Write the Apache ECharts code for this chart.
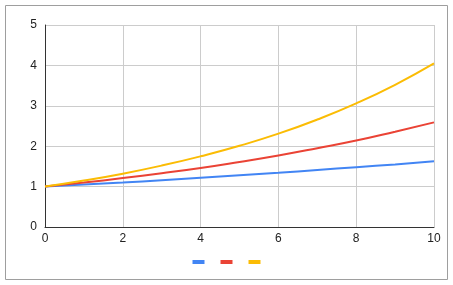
<!DOCTYPE html>
<html><head><meta charset="utf-8">
<script src="https://cdn.jsdelivr.net/npm/echarts@6/dist/echarts.min.js"></script>
<style>html,body{margin:0;padding:0;background:#fff}#c{width:453px;height:285px}</style>
</head><body><div id="c"></div>
<script>
const xs = [0,1,2,3,4,5,6,7,8,9,10];
const blue = [1.00,1.05,1.10,1.16,1.22,1.28,1.34,1.41,1.48,1.55,1.63];
const red = [1.00,1.10,1.21,1.33,1.46,1.61,1.77,1.95,2.14,2.36,2.59];
const yellow = [1.00,1.15,1.32,1.52,1.75,2.01,2.31,2.66,3.06,3.52,4.05];
const xTicks = [0,2,4,6,8,10];
const yTicks = [0,1,2,3,4,5];
const pairs = a => xs.map((x,i)=>[x,a[i]]);
const chart = echarts.init(document.getElementById('c'));
const font = {fontFamily:'Liberation Sans, Arial, sans-serif', fontSize:12, color:'#222'};
chart.setOption({
  animation:false,
  graphic:[{type:'rect',shape:{x:5.5,y:5.5,width:442,height:274},style:{fill:'none',stroke:'#9e9e9e',lineWidth:1},silent:true}],
  grid:{left:45,right:19,top:25,bottom:58},
  legend:{bottom:16,left:'center',itemWidth:12,itemHeight:4,itemGap:16,icon:'rect',formatter:()=>'',textStyle:{fontSize:1},
    data:['a','b','c']},
  xAxis:{type:'value',min:0,max:10,interval:2,
    axisLine:{show:true,lineStyle:{color:'#333',width:1}},axisTick:{show:false},
    axisLabel:Object.assign({margin:6,formatter:v=>xTicks.includes(v)?String(v):''},font),
    splitLine:{show:true,lineStyle:{color:'#ccc'}}},
  yAxis:{type:'value',min:0,max:5,interval:1,
    axisLine:{show:true,lineStyle:{color:'#333',width:1}},axisTick:{show:false},
    axisLabel:Object.assign({margin:8,formatter:v=>yTicks.includes(v)?String(v):''},font),
    splitLine:{show:true,lineStyle:{color:'#ccc'}}},
  series:[
    {name:'a',type:'line',data:pairs(blue),smooth:true,showSymbol:false,itemStyle:{color:'#4285F4'},lineStyle:{width:2,color:'#4285F4'}},
    {name:'b',type:'line',data:pairs(red),smooth:true,showSymbol:false,itemStyle:{color:'#EA4335'},lineStyle:{width:2,color:'#EA4335'}},
    {name:'c',type:'line',data:pairs(yellow),smooth:true,showSymbol:false,itemStyle:{color:'#FBBC04'},lineStyle:{width:2,color:'#FBBC04'}}
  ]
});
</script></body></html>
